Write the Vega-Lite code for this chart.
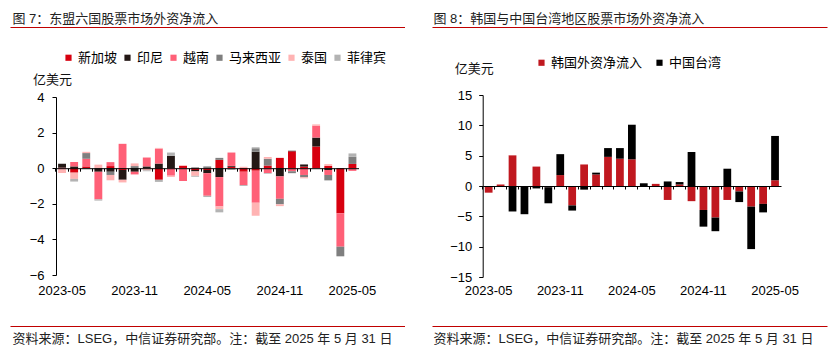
{
  "$schema": "https://vega.github.io/schema/vega-lite/v6.json",
  "autosize": "none",
  "width": 835,
  "height": 361,
  "padding": 0,
  "config": {
    "view": {"stroke": null},
    "font": "Liberation Sans, Noto Sans CJK SC",
    "axis": {
      "labelFont": "Liberation Sans, Noto Sans CJK SC",
      "titleFont": "Liberation Sans, Noto Sans CJK SC",
      "labelColor": "#000",
      "titleColor": "#111",
      "labelFontSize": 13,
      "titleFontSize": 13,
      "titleFontWeight": "normal",
      "grid": false,
      "domainColor": "#000",
      "tickColor": "#000"
    },
    "legend": {"labelFont": "Liberation Sans, Noto Sans CJK SC", "labelFontSize": 13, "labelColor": "#000"}
  },
  "datasets": {
    "asean": [
      {"m": "2023-05", "c": "新加坡", "k": 1, "v": 0.03},
      {"m": "2023-05", "c": "印尼", "k": 2, "v": 0.22},
      {"m": "2023-05", "c": "越南", "k": 3, "v": -0.05},
      {"m": "2023-05", "c": "泰国", "k": 5, "v": -0.22},
      {"m": "2023-06", "c": "新加坡", "k": 1, "v": -0.25},
      {"m": "2023-06", "c": "印尼", "k": 2, "v": 0.1},
      {"m": "2023-06", "c": "越南", "k": 3, "v": 0.25},
      {"m": "2023-06", "c": "泰国", "k": 5, "v": -0.35},
      {"m": "2023-06", "c": "菲律宾", "k": 6, "v": -0.15},
      {"m": "2023-07", "c": "新加坡", "k": 1, "v": 0.1},
      {"m": "2023-07", "c": "越南", "k": 3, "v": 0.43},
      {"m": "2023-07", "c": "马来西亚", "k": 4, "v": 0.32},
      {"m": "2023-07", "c": "泰国", "k": 5, "v": 0.07},
      {"m": "2023-07", "c": "菲律宾", "k": 6, "v": -0.05},
      {"m": "2023-08", "c": "印尼", "k": 2, "v": -0.2},
      {"m": "2023-08", "c": "越南", "k": 3, "v": -1.55},
      {"m": "2023-08", "c": "泰国", "k": 5, "v": 0.2},
      {"m": "2023-08", "c": "菲律宾", "k": 6, "v": -0.07},
      {"m": "2023-09", "c": "新加坡", "k": 1, "v": 0.12},
      {"m": "2023-09", "c": "印尼", "k": 2, "v": -0.2},
      {"m": "2023-09", "c": "越南", "k": 3, "v": 0.22},
      {"m": "2023-09", "c": "马来西亚", "k": 4, "v": -0.18},
      {"m": "2023-09", "c": "泰国", "k": 5, "v": -0.3},
      {"m": "2023-10", "c": "新加坡", "k": 1, "v": -0.1},
      {"m": "2023-10", "c": "印尼", "k": 2, "v": -0.55},
      {"m": "2023-10", "c": "越南", "k": 3, "v": 1.37},
      {"m": "2023-10", "c": "泰国", "k": 5, "v": -0.15},
      {"m": "2023-11", "c": "印尼", "k": 2, "v": -0.2},
      {"m": "2023-11", "c": "越南", "k": 3, "v": -0.15},
      {"m": "2023-11", "c": "马来西亚", "k": 4, "v": 0.12},
      {"m": "2023-11", "c": "泰国", "k": 5, "v": 0.15},
      {"m": "2023-12", "c": "印尼", "k": 2, "v": 0.1},
      {"m": "2023-12", "c": "越南", "k": 3, "v": 0.5},
      {"m": "2023-12", "c": "泰国", "k": 5, "v": -0.12},
      {"m": "2023-12", "c": "菲律宾", "k": 6, "v": -0.05},
      {"m": "2024-01", "c": "新加坡", "k": 1, "v": -0.65},
      {"m": "2024-01", "c": "印尼", "k": 2, "v": 0.26},
      {"m": "2024-01", "c": "越南", "k": 3, "v": 0.84},
      {"m": "2024-01", "c": "泰国", "k": 5, "v": 0.04},
      {"m": "2024-01", "c": "菲律宾", "k": 6, "v": -0.12},
      {"m": "2024-02", "c": "印尼", "k": 2, "v": 0.69},
      {"m": "2024-02", "c": "越南", "k": 3, "v": -0.42},
      {"m": "2024-02", "c": "泰国", "k": 5, "v": -0.07},
      {"m": "2024-02", "c": "菲律宾", "k": 6, "v": 0.19},
      {"m": "2024-03", "c": "新加坡", "k": 1, "v": 0.13},
      {"m": "2024-03", "c": "越南", "k": 3, "v": -0.72},
      {"m": "2024-03", "c": "泰国", "k": 5, "v": 0.04},
      {"m": "2024-04", "c": "新加坡", "k": 1, "v": -0.1},
      {"m": "2024-04", "c": "印尼", "k": 2, "v": -0.08},
      {"m": "2024-04", "c": "马来西亚", "k": 4, "v": 0.05},
      {"m": "2024-04", "c": "泰国", "k": 5, "v": -0.25},
      {"m": "2024-04", "c": "菲律宾", "k": 6, "v": -0.05},
      {"m": "2024-05", "c": "新加坡", "k": 1, "v": -0.1},
      {"m": "2024-05", "c": "印尼", "k": 2, "v": -0.18},
      {"m": "2024-05", "c": "越南", "k": 3, "v": -1.27},
      {"m": "2024-05", "c": "马来西亚", "k": 4, "v": 0.1},
      {"m": "2024-05", "c": "菲律宾", "k": 6, "v": -0.07},
      {"m": "2024-06", "c": "新加坡", "k": 1, "v": 0.47},
      {"m": "2024-06", "c": "印尼", "k": 2, "v": -0.5},
      {"m": "2024-06", "c": "越南", "k": 3, "v": -1.65},
      {"m": "2024-06", "c": "马来西亚", "k": 4, "v": 0.11},
      {"m": "2024-06", "c": "泰国", "k": 5, "v": -0.15},
      {"m": "2024-06", "c": "菲律宾", "k": 6, "v": -0.18},
      {"m": "2024-07", "c": "新加坡", "k": 1, "v": 0.08},
      {"m": "2024-07", "c": "印尼", "k": 2, "v": 0.05},
      {"m": "2024-07", "c": "越南", "k": 3, "v": 0.75},
      {"m": "2024-07", "c": "菲律宾", "k": 6, "v": -0.1},
      {"m": "2024-08", "c": "新加坡", "k": 1, "v": -0.2},
      {"m": "2024-08", "c": "越南", "k": 3, "v": -0.75},
      {"m": "2024-08", "c": "泰国", "k": 5, "v": 0.08},
      {"m": "2024-08", "c": "菲律宾", "k": 6, "v": -0.05},
      {"m": "2024-09", "c": "新加坡", "k": 1, "v": -0.14},
      {"m": "2024-09", "c": "印尼", "k": 2, "v": 0.93},
      {"m": "2024-09", "c": "越南", "k": 3, "v": -1.8},
      {"m": "2024-09", "c": "马来西亚", "k": 4, "v": 0.19},
      {"m": "2024-09", "c": "泰国", "k": 5, "v": -0.73},
      {"m": "2024-09", "c": "菲律宾", "k": 6, "v": 0.05},
      {"m": "2024-10", "c": "新加坡", "k": 1, "v": 0.15},
      {"m": "2024-10", "c": "越南", "k": 3, "v": -0.27},
      {"m": "2024-10", "c": "马来西亚", "k": 4, "v": 0.38},
      {"m": "2024-10", "c": "泰国", "k": 5, "v": 0.1},
      {"m": "2024-10", "c": "菲律宾", "k": 6, "v": -0.04},
      {"m": "2024-11", "c": "新加坡", "k": 1, "v": 0.58},
      {"m": "2024-11", "c": "印尼", "k": 2, "v": -0.46},
      {"m": "2024-11", "c": "越南", "k": 3, "v": -1.26},
      {"m": "2024-11", "c": "马来西亚", "k": 4, "v": -0.31},
      {"m": "2024-11", "c": "泰国", "k": 5, "v": -0.1},
      {"m": "2024-12", "c": "新加坡", "k": 1, "v": 0.95},
      {"m": "2024-12", "c": "印尼", "k": 2, "v": 0.03},
      {"m": "2024-12", "c": "越南", "k": 3, "v": -0.17},
      {"m": "2024-12", "c": "马来西亚", "k": 4, "v": -0.11},
      {"m": "2025-01", "c": "新加坡", "k": 1, "v": 0.09},
      {"m": "2025-01", "c": "印尼", "k": 2, "v": 0.12},
      {"m": "2025-01", "c": "越南", "k": 3, "v": -0.38},
      {"m": "2025-01", "c": "马来西亚", "k": 4, "v": -0.13},
      {"m": "2025-01", "c": "泰国", "k": 5, "v": -0.06},
      {"m": "2025-02", "c": "新加坡", "k": 1, "v": 1.22},
      {"m": "2025-02", "c": "印尼", "k": 2, "v": 0.5},
      {"m": "2025-02", "c": "越南", "k": 3, "v": 0.67},
      {"m": "2025-02", "c": "泰国", "k": 5, "v": 0.07},
      {"m": "2025-03", "c": "新加坡", "k": 1, "v": 0.13},
      {"m": "2025-03", "c": "印尼", "k": 2, "v": -0.1},
      {"m": "2025-03", "c": "越南", "k": 3, "v": -0.28},
      {"m": "2025-03", "c": "马来西亚", "k": 4, "v": -0.29},
      {"m": "2025-03", "c": "泰国", "k": 5, "v": 0.1},
      {"m": "2025-03", "c": "菲律宾", "k": 6, "v": -0.03},
      {"m": "2025-04", "c": "新加坡", "k": 1, "v": -2.53},
      {"m": "2025-04", "c": "越南", "k": 3, "v": -1.88},
      {"m": "2025-04", "c": "马来西亚", "k": 4, "v": -0.54},
      {"m": "2025-05", "c": "新加坡", "k": 1, "v": 0.24},
      {"m": "2025-05", "c": "越南", "k": 3, "v": -0.15},
      {"m": "2025-05", "c": "马来西亚", "k": 4, "v": 0.4},
      {"m": "2025-05", "c": "菲律宾", "k": 6, "v": 0.19}
    ],
    "kt": [
      {"m": "2023-05", "c": "韩国外资净流入", "k": 1, "v": -1.1},
      {"m": "2023-06", "c": "韩国外资净流入", "k": 1, "v": 0.25},
      {"m": "2023-07", "c": "韩国外资净流入", "k": 1, "v": 5.05},
      {"m": "2023-07", "c": "中国台湾", "k": 2, "v": -4.2},
      {"m": "2023-08", "c": "中国台湾", "k": 2, "v": -4.65},
      {"m": "2023-09", "c": "韩国外资净流入", "k": 1, "v": 3.2},
      {"m": "2023-09", "c": "中国台湾", "k": 2, "v": -0.4},
      {"m": "2023-10", "c": "韩国外资净流入", "k": 1, "v": -0.2},
      {"m": "2023-10", "c": "中国台湾", "k": 2, "v": -2.65},
      {"m": "2023-11", "c": "韩国外资净流入", "k": 1, "v": 1.8},
      {"m": "2023-11", "c": "中国台湾", "k": 2, "v": 3.45},
      {"m": "2023-12", "c": "韩国外资净流入", "k": 1, "v": -3.2},
      {"m": "2023-12", "c": "中国台湾", "k": 2, "v": -0.85},
      {"m": "2024-01", "c": "韩国外资净流入", "k": 1, "v": 3.55},
      {"m": "2024-01", "c": "中国台湾", "k": 2, "v": -0.6},
      {"m": "2024-02", "c": "韩国外资净流入", "k": 1, "v": 1.9},
      {"m": "2024-02", "c": "中国台湾", "k": 2, "v": 0.3},
      {"m": "2024-03", "c": "韩国外资净流入", "k": 1, "v": 4.8},
      {"m": "2024-03", "c": "中国台湾", "k": 2, "v": 1.45},
      {"m": "2024-04", "c": "韩国外资净流入", "k": 1, "v": 4.5},
      {"m": "2024-04", "c": "中国台湾", "k": 2, "v": 1.75},
      {"m": "2024-05", "c": "韩国外资净流入", "k": 1, "v": 4.4},
      {"m": "2024-05", "c": "中国台湾", "k": 2, "v": 5.7},
      {"m": "2024-06", "c": "中国台湾", "k": 2, "v": 0.45},
      {"m": "2024-07", "c": "韩国外资净流入", "k": 1, "v": 0.35},
      {"m": "2024-08", "c": "韩国外资净流入", "k": 1, "v": -2.3},
      {"m": "2024-08", "c": "中国台湾", "k": 2, "v": 0.75},
      {"m": "2024-09", "c": "韩国外资净流入", "k": 1, "v": 0.25},
      {"m": "2024-09", "c": "中国台湾", "k": 2, "v": 0.4},
      {"m": "2024-10", "c": "韩国外资净流入", "k": 1, "v": -2.5},
      {"m": "2024-10", "c": "中国台湾", "k": 2, "v": 5.6},
      {"m": "2024-11", "c": "韩国外资净流入", "k": 1, "v": -3.95},
      {"m": "2024-11", "c": "中国台湾", "k": 2, "v": -2.75},
      {"m": "2024-12", "c": "韩国外资净流入", "k": 1, "v": -5.2},
      {"m": "2024-12", "c": "中国台湾", "k": 2, "v": -2.25},
      {"m": "2025-01", "c": "韩国外资净流入", "k": 1, "v": -2.3},
      {"m": "2025-01", "c": "中国台湾", "k": 2, "v": 2.85},
      {"m": "2025-02", "c": "韩国外资净流入", "k": 1, "v": -0.9},
      {"m": "2025-02", "c": "中国台湾", "k": 2, "v": -1.75},
      {"m": "2025-03", "c": "韩国外资净流入", "k": 1, "v": -3.4},
      {"m": "2025-03", "c": "中国台湾", "k": 2, "v": -7.0},
      {"m": "2025-04", "c": "韩国外资净流入", "k": 1, "v": -2.95},
      {"m": "2025-04", "c": "中国台湾", "k": 2, "v": -1.4},
      {"m": "2025-05", "c": "韩国外资净流入", "k": 1, "v": 0.95},
      {"m": "2025-05", "c": "中国台湾", "k": 2, "v": 7.3}
    ],
    "edge": [{"f": 0}]
  },
  "resolve": {
    "scale": {"x": "independent", "y": "independent", "color": "independent"},
    "axis": {"x": "independent", "y": "independent"},
    "legend": {"color": "independent"}
  },
  "layer": [
    {
      "data": {"name": "asean"},
      "mark": {"type": "bar"},
      "encoding": {
        "x": {"field": "m", "type": "ordinal",
          "scale": {"type": "band", "range": [56, 358.5], "paddingInner": 0.35, "paddingOuter": 0.175},
          "axis": {"orient": "bottom", "offset": -192.8, "labels": false, "ticks": true, "tickSize": 3, "bandPosition": -0.27, "domainWidth": 1, "title": null, "zindex": 1}},
        "y": {"field": "v", "type": "quantitative", "stack": "zero",
          "scale": {"domain": [-6, 4], "nice": false, "zero": false, "range": [275, 97]},
          "axis": {"orient": "left", "values": [-6, -4, -2, 0, 2, 4], "offset": -56, "tickSize": 4, "labelPadding": 8, "title": "亿美元", "titleAngle": 0, "titleAlign": "center", "titleBaseline": "middle", "titleX": -4, "titleY": 79}},
        "color": {"field": "c", "type": "nominal",
          "scale": {"domain": ["新加坡", "印尼", "越南", "马来西亚", "泰国", "菲律宾"], "range": ["#d7000f", "#231815", "#ff6077", "#7f7f7f", "#ffb3b3", "#b3b3b3"]},
          "legend": {"orient": "none", "legendX": 62, "legendY": 51, "direction": "horizontal", "title": null, "symbolType": "square", "symbolSize": 38, "symbolStrokeWidth": 0, "labelOffset": 3, "columnPadding": 3, "padding": 0}},
        "order": {"field": "k", "type": "quantitative", "sort": "ascending"}
      }
    },
    {
      "data": {"name": "asean"},
      "mark": {"type": "rule", "opacity": 0},
      "encoding": {
        "x": {"field": "m", "type": "ordinal",
          "scale": {"type": "band", "range": [56, 358.5], "paddingInner": 0.35, "paddingOuter": 0.175},
          "axis": {"orient": "bottom", "offset": -86, "values": ["2023-05", "2023-11", "2024-05", "2024-11", "2025-05"], "domain": false, "ticks": false, "tickSize": 0, "labelPadding": 9.5, "labelAngle": 0, "title": null}}
      }
    },
    {
      "data": {"name": "kt"},
      "mark": {"type": "bar"},
      "encoding": {
        "x": {"field": "m", "type": "ordinal",
          "scale": {"type": "band", "range": [482.7, 781], "paddingInner": 0.35, "paddingOuter": 0.175},
          "axis": {"orient": "bottom", "offset": -175, "labels": false, "ticks": true, "tickSize": 3, "bandPosition": -0.27, "domainWidth": 1, "title": null, "zindex": 1}},
        "y": {"field": "v", "type": "quantitative", "stack": "zero",
          "scale": {"domain": [-15, 15], "nice": false, "zero": false, "range": [277, 95]},
          "axis": {"orient": "left", "values": [-15, -10, -5, 0, 5, 10, 15], "offset": -482.7, "tickSize": 4, "labelPadding": 7, "title": "亿美元", "titleAngle": 0, "titleAlign": "center", "titleBaseline": "middle", "titleX": -9, "titleY": 68}},
        "color": {"field": "c", "type": "nominal",
          "scale": {"domain": ["韩国外资净流入", "中国台湾"], "range": ["#c0181f", "#000000"]},
          "legend": {"orient": "none", "legendX": 535, "legendY": 56, "direction": "horizontal", "title": null, "symbolType": "square", "symbolSize": 38, "symbolStrokeWidth": 0, "labelOffset": 3, "columnPadding": 10, "padding": 0}},
        "order": {"field": "k", "type": "quantitative", "sort": "ascending"}
      }
    },
    {
      "data": {"name": "kt"},
      "mark": {"type": "rule", "opacity": 0},
      "encoding": {
        "x": {"field": "m", "type": "ordinal",
          "scale": {"type": "band", "range": [482.7, 781], "paddingInner": 0.35, "paddingOuter": 0.175},
          "axis": {"orient": "bottom", "offset": -84, "values": ["2023-05", "2023-11", "2024-05", "2024-11", "2025-05"], "domain": false, "ticks": false, "tickSize": 0, "labelPadding": 7.5, "labelAngle": 0, "title": null}}
      }
    },
    {
      "data": {"name": "edge"},
      "mark": {"type": "rule", "opacity": 0},
      "encoding": {
        "x": {"field": "f", "type": "quantitative", "scale": {"domain": [0, 1], "range": [10, 404.5]},
          "axis": {"orient": "top", "offset": -27, "domainColor": "#c00000", "domainWidth": 1.2, "labels": false, "ticks": false,
            "title": "图 7：东盟六国股票市场外资净流入", "titleColor": "#222", "titleAlign": "left", "titleBaseline": "middle", "titleAngle": 0, "titleX": 12, "titleY": -9}}
      }
    },
    {
      "data": {"name": "edge"},
      "mark": {"type": "rule", "opacity": 0},
      "encoding": {
        "x": {"field": "f", "type": "quantitative", "scale": {"domain": [0, 1], "range": [10, 404.5]},
          "axis": {"orient": "bottom", "offset": -35, "domainColor": "#c00000", "domainWidth": 1.2, "labels": false, "ticks": false,
            "title": "资料来源：LSEG，中信证券研究部。注：截至 2025 年 5 月 31 日", "titleColor": "#222", "titleAlign": "left", "titleBaseline": "middle", "titleAngle": 0, "titleX": 12, "titleY": 12.5}}
      }
    },
    {
      "data": {"name": "edge"},
      "mark": {"type": "rule", "opacity": 0},
      "encoding": {
        "x": {"field": "f", "type": "quantitative", "scale": {"domain": [0, 1], "range": [432, 827]},
          "axis": {"orient": "top", "offset": -27, "domainColor": "#c00000", "domainWidth": 1.2, "labels": false, "ticks": false,
            "title": "图 8：韩国与中国台湾地区股票市场外资净流入", "titleColor": "#222", "titleAlign": "left", "titleBaseline": "middle", "titleAngle": 0, "titleX": 433, "titleY": -9}}
      }
    },
    {
      "data": {"name": "edge"},
      "mark": {"type": "rule", "opacity": 0},
      "encoding": {
        "x": {"field": "f", "type": "quantitative", "scale": {"domain": [0, 1], "range": [432, 827]},
          "axis": {"orient": "bottom", "offset": -35, "domainColor": "#c00000", "domainWidth": 1.2, "labels": false, "ticks": false,
            "title": "资料来源：LSEG，中信证券研究部。注：截至 2025 年 5 月 31 日", "titleColor": "#222", "titleAlign": "left", "titleBaseline": "middle", "titleAngle": 0, "titleX": 433, "titleY": 12.5}}
      }
    }
  ]
}
